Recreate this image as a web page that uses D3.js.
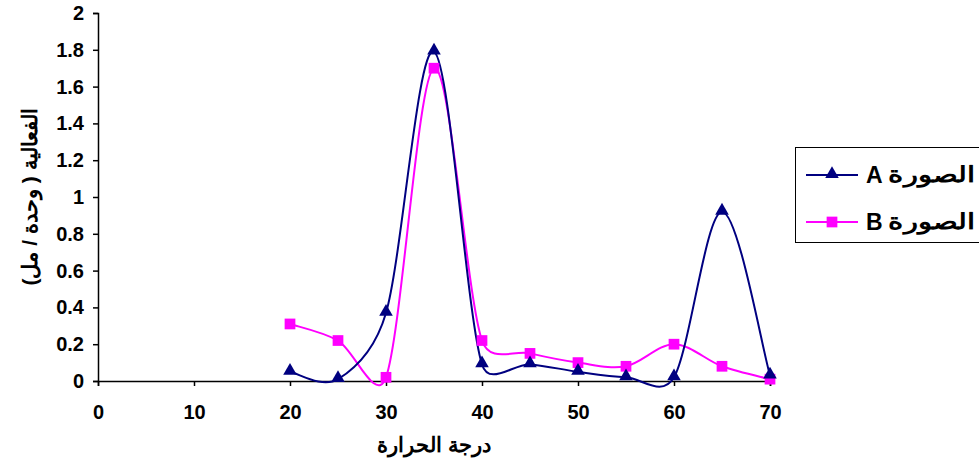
<!DOCTYPE html>
<html>
<head>
<meta charset="utf-8">
<script src="https://cdn.jsdelivr.net/npm/d3@7"></script>
<style>
  html, body { margin: 0; padding: 0; background: #fff; }
  svg { display: block; font-family: "Liberation Sans", Arial, sans-serif; font-weight: bold; }
</style>
</head>
<body>
<svg id="chart" width="979" height="474"></svg>
<script>
// Temperature (x) and activity values for the two forms
const temperatures = [20, 25, 30, 35, 40, 45, 50, 55, 60, 65, 70];
const seriesA = [0.05, 0.01, 0.37, 1.79, 0.09, 0.09, 0.05, 0.02, 0.02, 0.92, 0.03];
const seriesB = [0.31, 0.22, 0.02, 1.70, 0.22, 0.15, 0.10, 0.08, 0.20, 0.08, 0.01];
const xTicks = [0, 10, 20, 30, 40, 50, 60, 70];
const yTicks = [0, 0.2, 0.4, 0.6, 0.8, 1, 1.2, 1.4, 1.6, 1.8, 2];
const seriesWord = "الصورة";
const seriesLetters = ["A", "B"];
const xTitle = "درجة الحرارة";
const yTitle = "الفعالية ( وحدة / مل)";

const svg = d3.select("#chart");
const x = d3.scaleLinear().domain([0, 70]).range([98, 770]);
const y = d3.scaleLinear().domain([0, 2]).range([381, 13]);

const colorA = "#000080", colorB = "#FF00FF";

// Spreadsheet-style smoothing: cubic Bezier segments whose control handles
// follow the neighbour chord, with length min(chord/6, segment/2).
function SmoothCurve(context) { this._context = context; }
SmoothCurve.prototype = {
  areaStart() { this._line = 0; },
  areaEnd() { this._line = NaN; },
  lineStart() { this._pts = []; },
  point(px, py) { this._pts.push([+px, +py]); },
  lineEnd() {
    const p = this._pts, n = p.length, c = this._context;
    if (!n) return;
    c.moveTo(p[0][0], p[0][1]);
    const dist = (a, b) => Math.hypot(b[0] - a[0], b[1] - a[1]);
    const handle = (from, to, seg) => {
      const d = dist(from, to);
      if (d === 0) return [0, 0];
      const len = Math.min(d / 6, seg / 2);
      return [(to[0] - from[0]) / d * len, (to[1] - from[1]) / d * len];
    };
    for (let i = 0; i < n - 1; i++) {
      const p0 = p[Math.max(i - 1, 0)], p1 = p[i], p2 = p[i + 1], p3 = p[Math.min(i + 2, n - 1)];
      const seg = dist(p1, p2);
      const h1 = handle(p0, p2, seg), h2 = handle(p1, p3, seg);
      c.bezierCurveTo(p1[0] + h1[0], p1[1] + h1[1], p2[0] - h2[0], p2[1] - h2[1], p2[0], p2[1]);
    }
  }
};
const smoothCurve = context => new SmoothCurve(context);

// Axes
const xAxis = svg.append("g").attr("transform", `translate(0,${y(0)})`)
  .call(d3.axisBottom(x).tickValues(xTicks).tickSize(5).tickPadding(19).tickFormat(d3.format("d")));
const yAxis = svg.append("g").attr("transform", `translate(${x(0)},0)`)
  .call(d3.axisLeft(y).tickValues(yTicks).tickSize(5).tickPadding(9).tickFormat(d => d3.format("")(+d.toFixed(1))));
[xAxis, yAxis].forEach(g => {
  g.selectAll("path").attr("stroke", "#000").attr("stroke-width", 1.5);
  g.selectAll("line").attr("stroke", "#000").attr("stroke-width", 1.5);
  g.selectAll("text").attr("fill", "#000").style("font-size", "20px").style("font-weight", "bold")
    .style("font-family", "'Liberation Sans', Arial, sans-serif");
});

// Smoothed lines
const line = d3.line().curve(smoothCurve)
  .x((d, i) => x(temperatures[i])).y(d => y(d));

svg.append("path").datum(seriesB).attr("d", line)
  .attr("fill", "none").attr("stroke", colorB).attr("stroke-width", 2);
svg.append("path").datum(seriesA).attr("d", line)
  .attr("fill", "none").attr("stroke", colorA).attr("stroke-width", 2);

const tri = d3.symbol().type(d3.symbolTriangle).size(80);
const sq = d3.symbol().type(d3.symbolSquare).size(115);

svg.append("g").selectAll("path").data(seriesB).join("path")
  .attr("d", sq).attr("fill", colorB)
  .attr("transform", (d, i) => `translate(${x(temperatures[i])},${y(d)})`);
svg.append("g").selectAll("path").data(seriesA).join("path")
  .attr("d", tri).attr("fill", colorA)
  .attr("transform", (d, i) => `translate(${x(temperatures[i])},${y(d) - 1})`);

// Axis titles
svg.append("text").attr("x", (x(0) + x(70)) / 2).attr("y", 452)
  .attr("text-anchor", "middle").style("font-size", "21px").text(xTitle);
svg.append("text").attr("transform", `translate(37,${(y(0) + y(2)) / 2}) rotate(-90)`)
  .attr("text-anchor", "middle").attr("direction", "rtl").style("font-size", "21px").text(yTitle);

// Legend
const legend = svg.append("g");
legend.append("rect").attr("x", 795.5).attr("y", 147.5).attr("width", 200).attr("height", 95)
  .attr("fill", "#fff").attr("stroke", "#000").attr("stroke-width", 1);
const entries = [
  { letter: seriesLetters[0], color: colorA, sym: tri, yy: 175 },
  { letter: seriesLetters[1], color: colorB, sym: sq, yy: 222 }
];
entries.forEach(e => {
  legend.append("line").attr("x1", 806).attr("x2", 858).attr("y1", e.yy).attr("y2", e.yy)
    .attr("stroke", e.color).attr("stroke-width", 2);
  legend.append("path").attr("d", e.sym).attr("fill", e.color)
    .attr("transform", `translate(832,${e.yy - (e.sym === tri ? 1 : 0)})`);
  legend.append("text").attr("x", 866).attr("y", e.yy + 8).attr("text-anchor", "start")
    .style("font-size", "23px").text(e.letter);
  legend.append("text").attr("x", 888).attr("y", e.yy + 7).attr("text-anchor", "start")
    .attr("textLength", 87).attr("lengthAdjust", "spacingAndGlyphs")
    .style("font-size", "22px").text(seriesWord);
});
</script>
</body>
</html>
